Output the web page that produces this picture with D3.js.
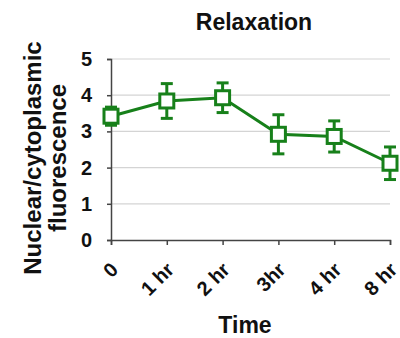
<!DOCTYPE html>
<html>
<head>
<meta charset="utf-8">
<script src="https://cdn.jsdelivr.net/npm/d3@7"></script>
<style>
  body { margin: 0; background: #fff; }
  text { font-family: "Liberation Sans", Arial, sans-serif; font-weight: bold; }
</style>
</head>
<body>
<div id="chart"></div>
<script>
const width = 400;
const height = 338;

const categories = ["0", "1 hr", "2 hr", "3hr", "4 hr", "8 hr"];
const values = [3.42, 3.84, 3.93, 2.92, 2.86, 2.12];
const errors = [0.25, 0.48, 0.41, 0.54, 0.43, 0.45];
const yTicks = [0, 1, 2, 3, 4, 5];

const green = "#17801a";

const margin = {top: 59, right: 10, bottom: 98, left: 111};

const svg = d3.select("#chart")
  .append("svg")
  .attr("width", width)
  .attr("height", height);

const x = d3.scalePoint()
  .domain(categories)
  .range([margin.left, 390]);

const y = d3.scaleLinear()
  .domain([0, 5])
  .range([height - margin.bottom, margin.top]);

// gridlines
svg.append("g")
  .selectAll("line")
  .data(yTicks.slice(1))
  .enter()
  .append("line")
    .attr("x1", margin.left)
    .attr("x2", 390)
    .attr("y1", d => y(d))
    .attr("y2", d => y(d))
    .attr("stroke", "#d4d4d4")
    .attr("stroke-width", 1.2);

// y axis
const yAxis = svg.append("g")
  .attr("transform", "translate(" + margin.left + ",0)")
  .call(d3.axisLeft(y).tickValues(yTicks).tickFormat(d3.format("d")).tickSize(4).tickPadding(15));
yAxis.select(".domain").attr("stroke", "#444").attr("stroke-width", 1.5);
yAxis.selectAll(".tick line").attr("stroke", "#444").attr("stroke-width", 1.5);
yAxis.selectAll("text")
  .style("font-size", "20px")
  .style("font-family", "Liberation Sans, Arial, sans-serif")
  .style("font-weight", "bold")
  .attr("fill", "#111");

// x axis
const xAxis = svg.append("g")
  .attr("transform", "translate(0," + y(0) + ")")
  .call(d3.axisBottom(x).tickSizeOuter(0).tickSize(5));
xAxis.select(".domain").attr("stroke", "#444").attr("stroke-width", 1.5);
xAxis.selectAll(".tick line").attr("stroke", "#444").attr("stroke-width", 1.5);
xAxis.selectAll("text")
  .style("font-size", "20px")
  .style("font-family", "Liberation Sans, Arial, sans-serif")
  .style("font-weight", "bold")
  .attr("fill", "#111")
  .attr("text-anchor", "end")
  .attr("x", 0)
  .attr("y", 0)
  .attr("dy", "0.35em")
  .attr("transform", "translate(3,26) rotate(-45)");

const pts = categories.map((c, i) => ({c: c, v: values[i], e: errors[i]}));

// line
svg.append("path")
  .datum(pts)
  .attr("fill", "none")
  .attr("stroke", green)
  .attr("stroke-width", 3)
  .attr("d", d3.line().x(d => x(d.c)).y(d => y(d.v)));

// error bars
const eb = svg.append("g").selectAll("g")
  .data(pts)
  .enter()
  .append("g")
    .attr("stroke", green)
    .attr("stroke-width", 3);
eb.append("line")
  .attr("x1", d => x(d.c)).attr("x2", d => x(d.c))
  .attr("y1", d => y(d.v + d.e)).attr("y2", d => y(d.v - d.e));
eb.append("line")
  .attr("x1", d => x(d.c) - 6).attr("x2", d => x(d.c) + 6)
  .attr("y1", d => y(d.v + d.e)).attr("y2", d => y(d.v + d.e));
eb.append("line")
  .attr("x1", d => x(d.c) - 6).attr("x2", d => x(d.c) + 6)
  .attr("y1", d => y(d.v - d.e)).attr("y2", d => y(d.v - d.e));

// markers
svg.append("g").selectAll("rect")
  .data(pts)
  .enter()
  .append("rect")
    .attr("x", d => x(d.c) - 7)
    .attr("y", d => y(d.v) - 7)
    .attr("width", 14)
    .attr("height", 14)
    .attr("fill", "#fff")
    .attr("stroke", green)
    .attr("stroke-width", 3);

// title
svg.append("text")
  .attr("x", 254)
  .attr("y", 30)
  .attr("text-anchor", "middle")
  .style("font-size", "23px")
  .attr("fill", "#111")
  .text("Relaxation");

// y axis title
const yt = svg.append("text")
  .attr("transform", "translate(41,158) rotate(-90)")
  .attr("text-anchor", "middle")
  .style("font-size", "24px")
  .attr("fill", "#111");
yt.append("tspan").attr("x", 0).attr("y", 0).text("Nuclear/cytoplasmic");
yt.append("tspan").attr("x", 0).attr("y", 25).text("fluorescence");

// x axis title
svg.append("text")
  .attr("x", 245)
  .attr("y", 333)
  .attr("text-anchor", "middle")
  .style("font-size", "23px")
  .attr("fill", "#111")
  .text("Time");
</script>
</body>
</html>
